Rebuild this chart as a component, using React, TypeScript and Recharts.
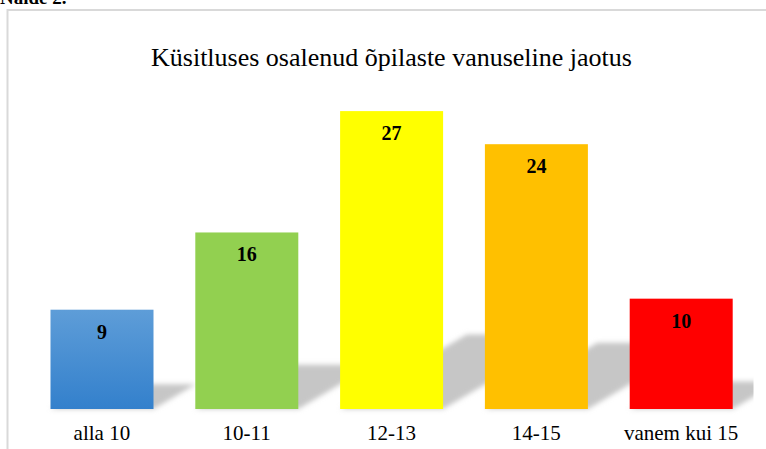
import { BarChart, Bar, XAxis, YAxis, Cell, LabelList } from 'recharts'

// Küsitluses osalenud õpilaste vanuseline jaotus
const categories = ['alla 10', '10-11', '12-13', '14-15', 'vanem kui 15']
const counts = [9, 16, 27, 24, 10]
const barColors = ['url(#blueFill)', '#92D050', '#FFFF00', '#FFC000', '#FF0000']

const W = 766
const H = 449
const margin = { top: 78, right: 12.5, left: 29.5, bottom: 10 }
const serif = '"Liberation Serif", "Times New Roman", serif'

const data = categories.map((name, i) => ({ name, value: counts[i] }))

// bar + its perspective shadow lying behind it
const ShadowBar = (props: any) => {
    const { x, y, width, height, fill } = props
    if (!height || height <= 0) return null
    const base = y + height
    const kh = height * 0.25
    const dx = kh * 1.7
    const pts = [
        `${x},${base}`,
        `${x + width},${base}`,
        `${x + width + dx},${base - kh}`,
        `${x + dx},${base - kh}`,
    ].join(' ')
    return (
        <g>
            <g clipPath="url(#plotClip)">
                <polygon points={pts} fill="#c6c6c6" filter="url(#shadowBlur)" />
            </g>
            <rect x={x} y={y} width={width} height={height} fill={fill} />
        </g>
    )
}

const renderLabel = (props: any) => {
    const { x, y, width, value } = props
    return (
        <text
            x={x + width / 2}
            y={y + 29}
            textAnchor="middle"
            fontFamily={serif}
            fontSize={20}
            fontWeight="bold"
            fill="#000"
        >
            {value}
        </text>
    )
}

export default function App() {
    return (
        <div style={{ position: 'absolute', left: 0, top: 0, width: W, height: H, background: '#fff', overflow: 'hidden' }}>
            <svg width={W} height={H} style={{ position: 'absolute', left: 0, top: 0 }}>
                <text x={0} y={4} fontFamily={serif} fontSize={19} fontWeight="bold" fill="#000">Näide 2.</text>
                <rect x={7.5} y={10} width={820} height={520} fill="#fff" stroke="#d9d9d9" strokeWidth={2} />
                <text x={391.5} y={65.5} textAnchor="middle" fontFamily={serif} fontSize={26} fill="#000">
                    Küsitluses osalenud õpilaste vanuseline jaotus
                </text>
            </svg>
            <div style={{ position: 'absolute', left: 0, top: 0 }}>
                <BarChart width={W} height={H} data={data} margin={margin} barSize={103}>
                    <defs>
                        <linearGradient id="blueFill" x1="0" y1="0" x2="0" y2="1">
                            <stop offset="0%" stopColor="#5E9DD8" />
                            <stop offset="100%" stopColor="#3380CC" />
                        </linearGradient>
                        <filter id="shadowBlur" x="-20%" y="-40%" width="140%" height="180%">
                            <feGaussianBlur stdDeviation="2.5" />
                        </filter>
                        <clipPath id="plotClip">
                            <rect x={margin.left} y={0} width={W - margin.left - margin.right} height={H} />
                        </clipPath>
                    </defs>
                    <XAxis
                        dataKey="name"
                        height={30}
                        axisLine={false}
                        tickLine={false}
                        tickSize={0}
                        tickMargin={16}
                        interval={0}
                        tick={{ fill: '#000', fontSize: 21, fontFamily: serif }}
                    />
                    <YAxis hide domain={[0, 30]} />
                    <Bar dataKey="value" shape={ShadowBar} isAnimationActive={false}>
                        {data.map((d, i) => (
                            <Cell key={d.name} fill={barColors[i]} />
                        ))}
                        <LabelList dataKey="value" content={renderLabel} />
                    </Bar>
                </BarChart>
            </div>
        </div>
    )
}
